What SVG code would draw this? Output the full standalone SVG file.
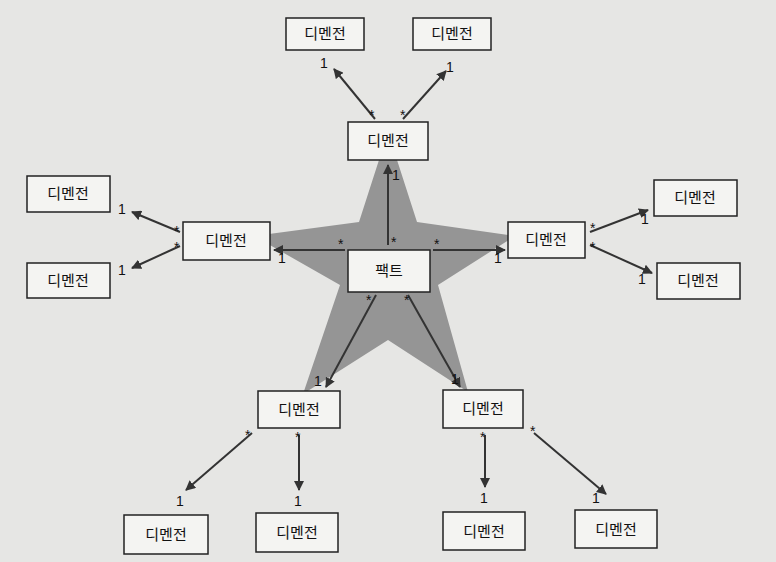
<svg xmlns="http://www.w3.org/2000/svg" width="776" height="562" viewBox="0 0 776 562">
<defs>
<style>
.b{fill:#f4f4f2;stroke:#222;stroke-width:1.5}
.t{font-family:"Noto Sans CJK KR","Noto Sans",sans-serif;font-size:15px;fill:#111;text-anchor:middle}
.m{font-family:"Liberation Sans",sans-serif;font-size:14px;fill:#111}
.c line{stroke:#333;stroke-width:2;marker-end:url(#a)}
</style>
<marker id="a" viewBox="0 0 10 10" refX="9" refY="5" markerWidth="5" markerHeight="5" orient="auto"><path d="M0,0L10,5L0,10z" fill="#333"/></marker>
</defs>
<rect width="776" height="562" fill="#e6e6e4"/>
<polygon points="388,132 417,222 515,236 438,285 468,392 388,340 303,394 340,285 254,236 359,222" fill="#959595"/>
<g id="fact"><rect class="b" x="348" y="250" width="82" height="42"/><text class="t" x="389" y="276">팩트</text></g>
<g id="top"><rect class="b" x="348" y="122" width="80" height="38"/><text class="t" x="388" y="146">디멘전</text></g>
<g id="top1"><rect class="b" x="286" y="18" width="78" height="32"/><text class="t" x="325" y="39">디멘전</text></g>
<g id="top2"><rect class="b" x="413" y="18" width="78" height="32"/><text class="t" x="452" y="39">디멘전</text></g>
<g id="left"><rect class="b" x="183" y="222" width="87" height="38"/><text class="t" x="226" y="246">디멘전</text></g>
<g id="left1"><rect class="b" x="27" y="176" width="83" height="36"/><text class="t" x="68" y="199">디멘전</text></g>
<g id="left2"><rect class="b" x="27" y="263" width="83" height="35"/><text class="t" x="68" y="286">디멘전</text></g>
<g id="right"><rect class="b" x="508" y="222" width="77" height="36"/><text class="t" x="546" y="245">디멘전</text></g>
<g id="right1"><rect class="b" x="654" y="180" width="83" height="36"/><text class="t" x="695" y="203">디멘전</text></g>
<g id="right2"><rect class="b" x="657" y="263" width="83" height="36"/><text class="t" x="698" y="286">디멘전</text></g>
<g id="bl"><rect class="b" x="258" y="391" width="82" height="37"/><text class="t" x="299" y="415">디멘전</text></g>
<g id="bl1"><rect class="b" x="124" y="515" width="84" height="39"/><text class="t" x="166" y="540">디멘전</text></g>
<g id="bl2"><rect class="b" x="256" y="513" width="82" height="39"/><text class="t" x="297" y="538">디멘전</text></g>
<g id="br"><rect class="b" x="443" y="390" width="80" height="38"/><text class="t" x="483" y="414">디멘전</text></g>
<g id="br1"><rect class="b" x="443" y="512" width="82" height="38"/><text class="t" x="484" y="537">디멘전</text></g>
<g id="br2"><rect class="b" x="575" y="510" width="82" height="38"/><text class="t" x="616" y="535">디멘전</text></g>
<g class="c" id="connectors">
<line x1="388" y1="245" x2="388" y2="165"/>
<line x1="345" y1="250" x2="274" y2="250"/>
<line x1="433" y1="250" x2="505" y2="250"/>
<line x1="376" y1="295" x2="326" y2="387"/>
<line x1="408" y1="295" x2="460" y2="387"/>
<line x1="375" y1="119" x2="334" y2="69"/>
<line x1="403" y1="119" x2="446" y2="71"/>
<line x1="180" y1="232" x2="132" y2="212"/>
<line x1="180" y1="246" x2="132" y2="268"/>
<line x1="590" y1="232" x2="648" y2="210"/>
<line x1="590" y1="245" x2="652" y2="273"/>
<line x1="252" y1="433" x2="186" y2="490"/>
<line x1="299" y1="435" x2="299" y2="490"/>
<line x1="485" y1="435" x2="485" y2="487"/>
<line x1="534" y1="433" x2="606" y2="494"/>
</g>
<g class="m">
<text x="391" y="247">*</text><text x="392" y="180">1</text>
<text x="338" y="249">*</text><text x="278" y="263">1</text>
<text x="434" y="249">*</text><text x="494" y="263">1</text>
<text x="366" y="305">*</text><text x="314" y="386">1</text>
<text x="404" y="305">*</text><text x="451" y="384">1</text>
<text x="369" y="120">*</text><text x="320" y="68">1</text>
<text x="400" y="120">*</text><text x="446" y="72">1</text>
<text x="174" y="236">*</text><text x="118" y="214">1</text>
<text x="174" y="252">*</text><text x="118" y="275">1</text>
<text x="590" y="233">*</text><text x="641" y="224">1</text>
<text x="590" y="252">*</text><text x="638" y="284">1</text>
<text x="245" y="440">*</text><text x="176" y="506">1</text>
<text x="295" y="442">*</text><text x="294" y="506">1</text>
<text x="480" y="442">*</text><text x="480" y="503">1</text>
<text x="530" y="436">*</text><text x="592" y="503">1</text>
</g>
</svg>
